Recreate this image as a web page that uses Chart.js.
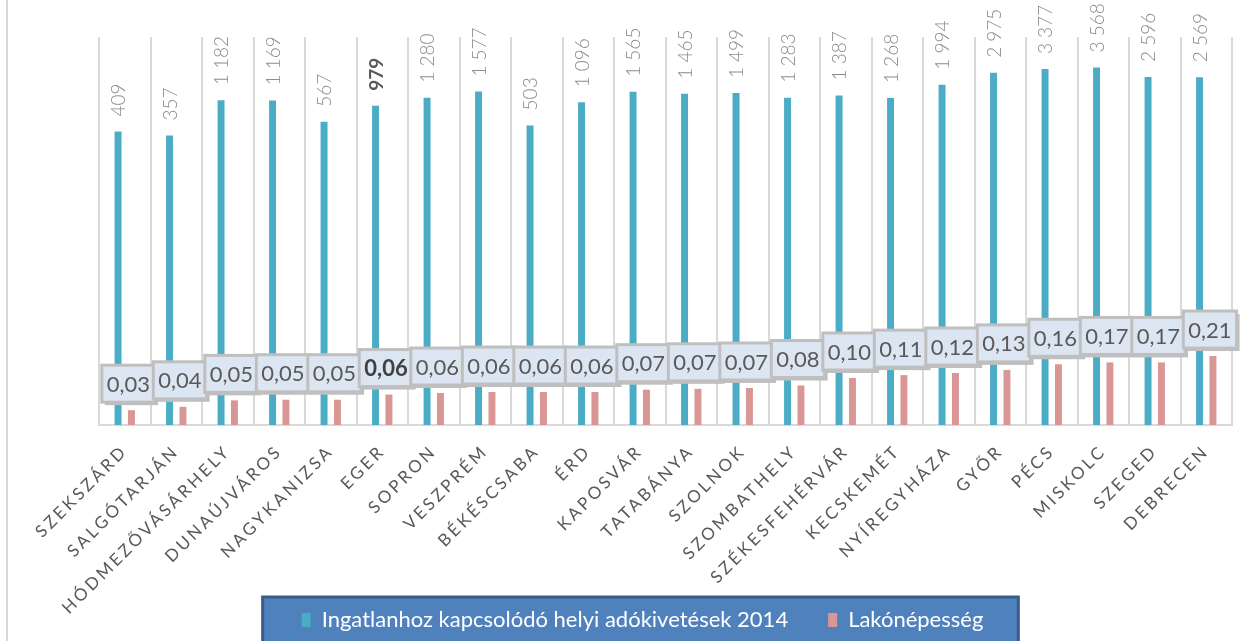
<!DOCTYPE html>
<html>
<head>
<meta charset="utf-8">
<title>Ingatlanhoz kapcsolódó helyi adókivetések 2014</title>
<script src="https://cdn.jsdelivr.net/npm/chart.js@4/dist/chart.umd.min.js"></script>
<style>
	html, body { margin: 0; padding: 0; background: #ffffff; }
	canvas { display: block; }
</style>
</head>
<body>
<canvas id="myChart" width="1250" height="641"></canvas>
<script>
// Categories (cities)
var cities = ['SZEKSZÁRD', 'SALGÓTARJÁN', 'HÓDMEZŐVÁSÁRHELY', 'DUNAÚJVÁROS', 'NAGYKANIZSA', 'EGER', 'SOPRON', 'VESZPRÉM', 'BÉKÉSCSABA', 'ÉRD', 'KAPOSVÁR', 'TATABÁNYA', 'SZOLNOK', 'SZOMBATHELY', 'SZÉKESFEHÉRVÁR', 'KECSKEMÉT', 'NYÍREGYHÁZA', 'GYŐR', 'PÉCS', 'MISKOLC', 'SZEGED', 'DEBRECEN'];

// Ingatlanhoz kapcsolódó helyi adókivetések 2014
var taxValues = [409, 357, 1182, 1169, 567, 979, 1280, 1577, 503, 1096, 1565, 1465, 1499, 1283, 1387, 1268, 1994, 2975, 3377, 3568, 2596, 2569];

// Lakónépesség
var populationValues = [0.033, 0.037, 0.046, 0.047, 0.047, 0.056, 0.059, 0.061, 0.061, 0.061, 0.066, 0.068, 0.070, 0.076, 0.098, 0.108, 0.116, 0.129, 0.156, 0.166, 0.166, 0.206];

var seriesNames = ['Ingatlanhoz kapcsolódó helyi adókivetések 2014', 'Lakónépesség'];

// the highlighted city (bold labels)
var highlightCity = 'EGER';

function fmtThousands(v) {
	return String(v).replace(/\B(?=(\d{3})+(?!\d))/g, ' ');
}

function fmtDecimal(v) {
	return v.toFixed(2).replace('.', ',');
}

// draws the frame line, legend box and the data labels
var decorPlugin = {
	id: 'decor',
	beforeDraw: function (chart) {
		var ctx = chart.ctx;
		ctx.save();
		ctx.fillStyle = '#d9d9d9';
		ctx.fillRect(6, 0, 2, chart.height);

		// legend background box
		var boxes = chart.legend.legendHitBoxes;
		if (boxes && boxes.length) {
			var first = boxes[0], last = boxes[boxes.length - 1];
			var left = first.left - 39;
			var right = last.left + last.width + 35;
			var top = chart.legend.top + 28;
			ctx.fillStyle = '#4f81bd';
			ctx.fillRect(left, top, right - left, chart.height - top + 10);
			ctx.strokeStyle = '#385d8a';
			ctx.lineWidth = 3;
			ctx.strokeRect(left, top, right - left, chart.height - top + 10);
		}
		ctx.restore();
	},
	afterLayout: function (chart) {
		// letter spaced category labels, allowed to run into the legend area
		var s = chart.scales.x;
		if (!s._spaced) {
			var orig = s.drawLabels;
			s._computeLabelArea = function () { return undefined; };
			s.drawLabels = function (area) {
				this.ctx.save();
				this.ctx.letterSpacing = '3px';
				orig.call(this, area);
				this.ctx.restore();
			};
			s._spaced = true;
		}
	},
	afterDatasetsDraw: function (chart) {
		var ctx = chart.ctx;
		var blue = chart.getDatasetMeta(0).data;
		var red = chart.getDatasetMeta(1).data;
		ctx.save();
		ctx.letterSpacing = '0px';

		// rotated labels above the tax bars
		blue.forEach(function (bar, i) {
			var bold = cities[i] === highlightCity;
			ctx.save();
			ctx.translate(bar.x + 1, bar.y - 15);
			ctx.rotate(-Math.PI / 2);
			ctx.font = (bold ? 'bold ' : '300 ') + '19px Lato';
			ctx.fillStyle = bold ? '#595959' : '#8c8c8c';
			ctx.textAlign = 'left';
			ctx.textBaseline = 'middle';
			ctx.fillText(fmtThousands(taxValues[i]), 0, 0);
			ctx.restore();
		});

		// boxed labels above the population bars
		red.forEach(function (bar, i) {
			var bold = cities[i] === highlightCity;
			var text = fmtDecimal(populationValues[i]);
			ctx.font = (bold ? 'bold ' : '') + '22px Lato';
			var w = ctx.measureText(text).width + 10;
			var h = 37;
			var cx = bar.x - 3;
			var x = cx - w / 2;
			var y = bar.y - 8 - h;
			ctx.fillStyle = '#bfbfbf';
			ctx.fillRect(x + 3, y + 3, w, h);
			ctx.fillStyle = '#dce6f2';
			ctx.fillRect(x, y, w, h);
			ctx.strokeStyle = '#bfbfbf';
			ctx.lineWidth = 3;
			ctx.strokeRect(x, y, w, h);
			ctx.fillStyle = bold ? '#404040' : '#595959';
			ctx.textAlign = 'center';
			ctx.textBaseline = 'middle';
			ctx.fillText(text, cx, y + h / 2 + 1);
		});
		ctx.restore();
	}
};

var ctx = document.getElementById('myChart').getContext('2d');
var chart = new Chart(ctx, {
	// The type of chart we want to create
	type: 'bar',

	// The data for our dataset
	data: {
		labels: cities,
		datasets: [{
			label: seriesNames[0],
			backgroundColor: '#4bacc6',
			borderWidth: 0,
			data: taxValues
		}, {
			label: seriesNames[1],
			backgroundColor: '#d99694',
			borderWidth: 0,
			data: populationValues
		}]
	},

	// Configuration options go here
	options: {
		responsive: false,
		animation: false,
		categoryPercentage: 0.52,
		barPercentage: 0.52,
		layout: {
			padding: { left: 53, right: 18, top: 37, bottom: 0 }
		},
		scales: {
			x: {
				grid: { display: true, color: '#d9d9d9', lineWidth: 2, drawTicks: false, offset: true },
				border: { display: true, color: '#d9d9d9', width: 2 },
				ticks: {
					autoSkip: false,
					minRotation: 45,
					maxRotation: 45,
					padding: 16,
					color: '#595959',
					font: { family: 'Lato', size: 17 }
				},
				afterFit: function (scale) { scale.height = 144; }
			},
			y: {
				type: 'logarithmic',
				min: 0.02,
				max: 10000,
				grid: { display: false },
				border: { display: false },
				ticks: { display: false },
				afterFit: function (scale) { scale.width = 46; }
			}
		},
		plugins: {
			legend: {
				position: 'bottom',
				labels: {
					boxWidth: 9,
					boxHeight: 14,
					padding: 40,
					color: '#ffffff',
					font: { family: 'Lato', size: 22 }
				}
			},
			tooltip: { enabled: false }
		}
	},
	plugins: [decorPlugin]
});
</script>
</body>
</html>
